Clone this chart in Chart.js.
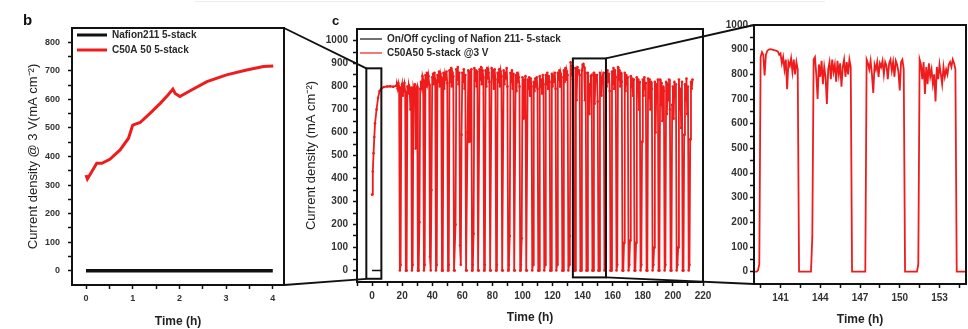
<!DOCTYPE html>
<html>
<head>
<meta charset="utf-8">
<title>Stack current density</title>
<script src="https://cdn.jsdelivr.net/npm/chart.js@4.4.0/dist/chart.umd.min.js"></script>
<style>
  html, body { margin: 0; padding: 0; background: #fff; }
  #wrap { position: relative; width: 968px; height: 329px; overflow: hidden; }
  #wrap canvas { position: absolute; left: 0; top: 0; }
</style>
</head>
<body>
<div id="wrap">
  <canvas id="chartB" width="968" height="329"></canvas>
  <canvas id="chartC" width="968" height="329"></canvas>
  <canvas id="chartD" width="968" height="329"></canvas>
  <canvas id="links" width="968" height="329"></canvas>
</div>
<script>
// ---- panel b: first 4 h at 3 V ----
const bTime = [0, 0.03, 0.23, 0.34, 0.51, 0.73, 0.91, 1.0, 1.16, 1.37, 1.59, 1.76, 1.86, 1.91, 2.01, 2.26, 2.59, 3.01, 3.44, 3.8, 4.01];
const bC50A50 = [335, 321, 376, 376, 390, 423, 464, 510, 519, 551, 586, 616, 636, 621, 610, 633, 662, 686, 703, 715, 717];
const bNafionTime = [0, 1, 2, 3, 4];
const bNafion = [0, 0, 0, 0, 0];
const bTicksX = [0, 0.5, 1, 1.5, 2, 2.5, 3, 3.5, 4];
const bLabelsX = [0, 1, 2, 3, 4];
const bTicksY = [0, 50, 100, 150, 200, 250, 300, 350, 400, 450, 500, 550, 600, 650, 700, 750, 800];
const bLabelsY = [0, 100, 200, 300, 400, 500, 600, 700, 800];

// ---- panel c: on/off cycling ----
const cNafionTime = [0, 2, 4, 6];
const cNafion = [0, 0, 0, 0];
const cRampTime = [0, 0.5, 1, 1.5, 2, 3, 4, 5, 6, 8, 10, 12, 14, 16];
const cRamp = [330, 430, 510, 580, 640, 700, 750, 780, 790, 798, 800, 801, 799, 803];
// readings every 0.5 h from 16.5 h; each row = one 4 h on/off cycle
const cCycleStart = 16.5;
const cCycleStep = 0.5;
const cCycle = [
  805, 790, 815, 800,
  0, 25, 790, 810, 760, 800, 815, 780,
  0, 0, 800, 770, 805, 790, 700, 795,
  0, 25, 795, 780, 810, 530, 790, 800,
  0, 0, 210, 790, 820, 800, 845, 830,
  0, 25, 850, 800, 860, 820, 845, 810,
  60, 0, 350, 840, 855, 810, 860, 830,
  0, 25, 850, 820, 865, 800, 855, 840,
  0, 0, 860, 790, 850, 830, 865, 815,
  0, 25, 870, 820, 880, 800, 860, 845,
  0, 0, 200, 875, 830, 885, 810, 860,
  110, 25, 590, 860, 820, 875, 790, 850,
  0, 0, 600, 870, 560, 865, 830, 875,
  0, 25, 160, 880, 825, 870, 800, 865,
  0, 0, 875, 830, 885, 810, 870, 840,
  0, 25, 870, 800, 880, 835, 860, 820,
  0, 0, 880, 840, 870, 790, 875, 830,
  0, 25, 860, 820, 875, 800, 865, 845,
  0, 0, 870, 810, 860, 835, 880, 800,
  0, 25, 150, 860, 820, 870, 790, 855,
  0, 0, 850, 780, 860, 820, 840, 800,
  0, 25, 140, 840, 660, 830, 800, 845,
  0, 0, 830, 790, 840, 760, 835, 800,
  0, 25, 820, 780, 835, 800, 840, 790,
  0, 0, 845, 800, 830, 770, 850, 810,
  0, 25, 850, 810, 860, 790, 845, 820,
  0, 0, 855, 800, 840, 820, 860, 790,
  0, 25, 860, 830, 870, 800, 855, 840,
  0, 0, 870, 820, 880, 830, 865, 850,
  0, 25, 150, 905, 850, 890, 830, 880,
  0, 0, 880, 740, 885, 860, 870, 850,
  0, 0, 870, 895, 898, 885, 740, 860,
  0, 0, 860, 790, 680, 810, 845, 850,
  0, 0, 860, 725, 845, 835, 850, 735,
  0, 0, 860, 830, 760, 840, 820, 860,
  0, 25, 860, 800, 870, 820, 855, 780,
  0, 0, 865, 810, 880, 790, 870, 840,
  0, 25, 885, 830, 870, 800, 860, 820,
  0, 0, 120, 860, 780, 850, 810, 840,
  0, 25, 130, 845, 800, 835, 760, 830,
  0, 0, 120, 840, 790, 830, 700, 820,
  0, 25, 560, 830, 760, 840, 790, 815,
  0, 0, 835, 750, 830, 700, 820, 790,
  0, 25, 100, 820, 600, 810, 760, 830,
  0, 0, 830, 720, 815, 650, 800, 780,
  0, 25, 820, 680, 810, 740, 830, 700,
  0, 0, 720, 800, 660, 820, 760, 810,
  0, 25, 100, 830, 700, 790, 620, 820,
  0, 0, 590, 810, 740, 835, 680, 800,
  0, 25, 570, 820, 790, 830
];
const cZoomBoxes = [
  { x0: -3.8, x1: 6.2, y0: -36, y1: 879 },
  { x0: 133.5, x1: 155.5, y0: -30, y1: 922 }
];
const cTicksX = [-10, 0, 10, 20, 30, 40, 50, 60, 70, 80, 90, 100, 110, 120, 130, 140, 150, 160, 170, 180, 190, 200, 210, 220];
const cLabelsX = [0, 20, 40, 60, 80, 100, 120, 140, 160, 180, 200, 220];
const cTicksY = [0, 50, 100, 150, 200, 250, 300, 350, 400, 450, 500, 550, 600, 650, 700, 750, 800, 850, 900, 950, 1000];
const cLabelsY = [0, 100, 200, 300, 400, 500, 600, 700, 800, 900, 1000];

// ---- panel d: close-up 139-155 h, readings every 0.1 h ----
const dStart = 139;
const dStep = 0.1;
const dCurrent = [
  0, 0, 0, 5, 30, 870, 890, 880, 795, 880,
  895, 900, 902, 901, 900, 898, 897, 895, 893, 880,
  885, 845, 870, 820, 860, 740, 850, 835, 865, 810,
  860, 800, 850, 820, 0, 0, 0, 0, 0, 0,
  0, 0, 0, 0, 140, 860, 870, 800, 700, 840,
  790, 855, 760, 830, 790, 680, 820, 850, 780, 860,
  810, 840, 770, 855, 800, 845, 750, 830, 860, 790,
  850, 800, 860, 830, 0, 0, 0, 0, 0, 0,
  0, 0, 0, 0, 0, 860, 845, 820, 855, 800,
  725, 840, 820, 850, 790, 845, 830, 855, 800, 850,
  835, 780, 845, 860, 815, 850, 790, 855, 840, 810,
  735, 850, 860, 820, 0, 0, 0, 0, 0, 0,
  0, 0, 0, 0, 30, 860, 840, 780, 850, 720,
  830, 760, 845, 790, 820, 760, 800, 690, 830, 780,
  840, 800, 760, 830, 790, 820, 800, 840, 850, 830,
  860, 845, 820, 0, 0, 0, 0, 0, 0, 0,
  0
];
const dTicksX = [139.5, 141, 142.5, 144, 145.5, 147, 148.5, 150, 151.5, 153, 154.5];
const dLabelsX = [141, 144, 147, 150, 153];
const dTicksY = cTicksY;
const dLabelsY = cLabelsY;

const RED = '#ee1c1c';
const FONT = '"Liberation Sans", Arial, sans-serif';

const pairs = (xs, ys) => ys.map((y, i) => ({ x: xs[i], y }));

// black frame round the plot area
const framePlugin = {
  id: 'frame',
  afterDatasetsDraw(chart) {
    const { ctx, chartArea: a } = chart;
    ctx.save();
    ctx.strokeStyle = '#111';
    ctx.lineWidth = 2;
    ctx.strokeRect(a.left, a.top, a.right - a.left, a.bottom - a.top);
    ctx.restore();
  }
};

// legend written inside the plot
const keyPlugin = {
  id: 'key',
  afterDraw(chart, args, o) {
    if (!o.show) return;
    const ctx = chart.ctx;
    ctx.save();
    ctx.font = o.font;
    ctx.fillStyle = '#2a2a2a';
    ctx.textBaseline = 'middle';
    chart.data.datasets.forEach((ds, i) => {
      const y = o.y + i * o.gap;
      ctx.strokeStyle = ds.borderColor;
      ctx.lineWidth = o.lineWidth;
      ctx.beginPath();
      ctx.moveTo(o.x, y);
      ctx.lineTo(o.x + o.len, y);
      ctx.stroke();
      ctx.fillText(ds.label, o.x + o.len + 5, y);
    });
    ctx.restore();
  }
};

// rectangles marking the zoomed ranges
const boxPlugin = {
  id: 'zoomBoxes',
  afterDatasetsDraw(chart, args, o) {
    if (!o.boxes) return;
    const { ctx, scales: { x, y } } = chart;
    ctx.save();
    ctx.strokeStyle = '#111';
    ctx.lineWidth = 2;
    o.boxes.forEach(b => {
      const l = x.getPixelForValue(b.x0), r = x.getPixelForValue(b.x1);
      const t = y.getPixelForValue(b.y1), btm = y.getPixelForValue(b.y0);
      ctx.strokeRect(l, t, r - l, btm - t);
    });
    ctx.restore();
  }
};

function axis(min, max, ticks, labels, o) {
  return {
    type: 'linear',
    min, max,
    afterBuildTicks: s => { s.ticks = ticks.map(v => ({ value: v })); },
    afterFit: s => {
      if (o.width) s.width = o.width;
      if (o.height) s.height = o.height;
    },
    border: { display: false },
    grid: { drawOnChartArea: false, drawTicks: true, tickLength: 4, tickWidth: 1.5, tickColor: '#111' },
    ticks: {
      autoSkip: false, maxRotation: 0, padding: o.pad, color: '#333',
      font: { family: FONT, size: o.size, weight: 'bold' },
      callback: v => labels.includes(v) ? String(v) : ''
    },
    title: o.title
      ? { display: true, text: o.title, color: '#222', padding: o.titlePad,
          font: { family: FONT, size: o.titleSize, weight: o.titleWeight } }
      : { display: false }
  };
}

function panel(id, datasets, padding, scales, plugins) {
  return new Chart(document.getElementById(id), {
    type: 'line',
    data: { datasets },
    options: {
      responsive: false,
      animation: false,
      devicePixelRatio: 1,
      events: [],
      parsing: false,
      layout: { padding },
      scales,
      plugins: Object.assign({ legend: { display: false }, tooltip: { enabled: false } }, plugins)
    },
    plugins: [framePlugin, keyPlugin, boxPlugin]
  });
}

// panel b
const chartB = panel('chartB', [
  { label: 'Nafion211 5-stack', data: pairs(bNafionTime, bNafion), borderColor: '#111', borderWidth: 3.5, pointRadius: 0 },
  { label: 'C50A 50 5-stack', data: pairs(bTime, bC50A50), borderColor: RED, borderWidth: 3, pointRadius: 0 }
], { left: 22, top: 28, right: 684, bottom: 0 }, {
  x: axis(-0.3, 4.24, bTicksX, bLabelsX, { height: 44, pad: 4, size: 9, title: 'Time (h)', titlePad: { top: 0, bottom: 0 }, titleSize: 12, titleWeight: 'bold' }),
  y: axis(-50, 850, bTicksY, bLabelsY, { width: 50, pad: 8, size: 9, title: 'Current density @ 3 V(mA cm\u207B\u00B2)', titlePad: { top: 4, bottom: 4 }, titleSize: 13, titleWeight: 'normal' })
}, { key: { show: true, x: 77, y: 35, gap: 15, len: 30, lineWidth: 3, font: 'bold 10px ' + FONT } });

// panel c
const cSeries = pairs(cRampTime, cRamp).concat(cCycle.map((y, i) => ({ x: cCycleStart + i * cCycleStep, y })));
const chartC = panel('chartC', [
  { label: 'On/Off cycling of Nafion 211- 5-stack', data: pairs(cNafionTime, cNafion), borderColor: '#111', borderWidth: 1.5, pointRadius: 0 },
  { label: 'C50A50 5-stack @3 V', data: cSeries, borderColor: RED, borderWidth: 1.8, pointRadius: 1.3, pointBorderWidth: 0, pointBackgroundColor: RED }
], { left: 300, top: 29, right: 265, bottom: 0 }, {
  x: axis(-10, 220, cTicksX, cLabelsX, { height: 47, pad: 4, size: 10, title: 'Time (h)', titlePad: { top: 0, bottom: 4 }, titleSize: 12, titleWeight: 'bold' }),
  y: axis(-50, 1050, cTicksY, cLabelsY, { width: 57, pad: 5, size: 10, title: 'Current density (mA cm\u207B\u00B2)', titlePad: { top: 4, bottom: 4 }, titleSize: 13, titleWeight: 'normal' })
}, {
  key: { show: true, x: 360, y: 39, gap: 14, len: 22, lineWidth: 1.2, font: 'bold 10px ' + FONT },
  zoomBoxes: { boxes: cZoomBoxes }
});

// panel d
const chartD = panel('chartD', [
  { label: 'C50A50 5-stack @3 V', data: dCurrent.map((y, i) => ({ x: dStart + i * dStep, y })), borderColor: RED, borderWidth: 1.8, pointRadius: 0 }
], { left: 700, top: 25, right: 2, bottom: 0 }, {
  x: axis(139, 155, dTicksX, dLabelsX, { height: 45, pad: 4, size: 10, title: 'Time (h)', titlePad: { top: 0, bottom: 2 }, titleSize: 12, titleWeight: 'bold' }),
  y: axis(-50, 1000, dTicksY, dLabelsY, { width: 54, pad: 2, size: 10 })
}, {});

// connector lines between panels, panel letters
(function drawLinks() {
  const ctx = document.getElementById('links').getContext('2d');
  const a = chartB.chartArea, d = chartD.chartArea;
  const sx = chartC.scales.x, sy = chartC.scales.y;
  const [z1, z2] = cZoomBoxes;
  const seg = (x1, y1, x2, y2) => { ctx.beginPath(); ctx.moveTo(x1, y1); ctx.lineTo(x2, y2); ctx.stroke(); };
  ctx.strokeStyle = '#111';
  ctx.lineWidth = 1.8;
  seg(a.right, a.top, sx.getPixelForValue(z1.x0), sy.getPixelForValue(z1.y1));
  seg(a.right, a.bottom, sx.getPixelForValue(z1.x0), sy.getPixelForValue(z1.y0));
  seg(sx.getPixelForValue(z2.x1), sy.getPixelForValue(z2.y1), d.left, d.top);
  seg(sx.getPixelForValue(z2.x1), sy.getPixelForValue(z2.y0), d.left, d.bottom);

  ctx.strokeStyle = '#ececec';
  ctx.lineWidth = 1;
  seg(195, 1.5, 825, 1.5);

  ctx.fillStyle = '#111';
  ctx.font = 'bold 15px ' + FONT;
  ctx.fillText('b', 23, 25);
  ctx.font = 'bold 13px ' + FONT;
  ctx.fillText('c', 332, 25);
})();
</script>
</body>
</html>
